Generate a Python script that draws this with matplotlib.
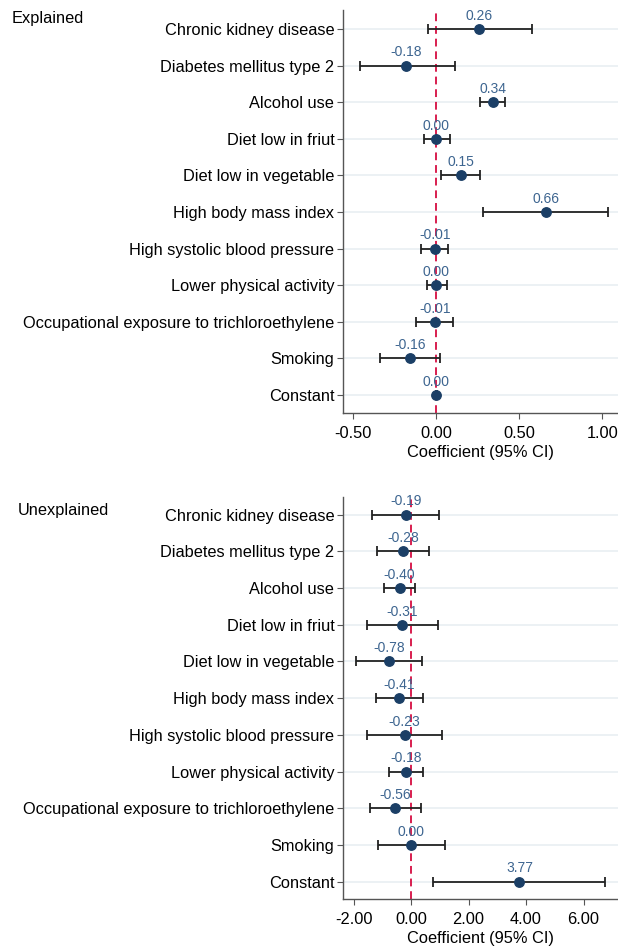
import matplotlib
matplotlib.use("Agg")
import matplotlib.pyplot as plt

plt.rcParams['font.family'] = ['Liberation Sans', 'DejaVu Sans']

categories = ["Chronic kidney disease", "Diabetes mellitus type 2", "Alcohol use",
              "Diet low in friut", "Diet low in vegetable", "High body mass index",
              "High systolic blood pressure", "Lower physical activity",
              "Occupational exposure to trichloroethylene", "Smoking", "Constant"]

explained_coef = [0.26, -0.18, 0.34, 0.00, 0.15, 0.66, -0.01, 0.00, -0.01, -0.16, 0.00]
explained_lo = [-0.05, -0.46, 0.265, -0.072, 0.028, 0.279, -0.090, -0.058, -0.122, -0.337, -0.003]
explained_hi = [0.578, 0.111, 0.416, 0.081, 0.265, 1.032, 0.069, 0.066, 0.101, 0.020, 0.003]

unexplained_coef = [-0.19, -0.28, -0.40, -0.31, -0.78, -0.41, -0.23, -0.18, -0.56, 0.00, 3.77]
unexplained_lo = [-1.36, -1.17, -0.93, -1.55, -1.93, -1.22, -1.54, -0.77, -1.44, -1.15, 0.76]
unexplained_hi = [0.98, 0.63, 0.15, 0.94, 0.38, 0.41, 1.09, 0.40, 0.35, 1.18, 6.76]

explained_ticks = [-0.5, 0.0, 0.5, 1.0]
unexplained_ticks = [-2.0, 0.0, 2.0, 4.0, 6.0]

W, H = 618, 946
fig = plt.figure(figsize=(W / 100, H / 100), dpi=100)

point_color = "#1b3f66"
label_color = "#3d6590"
ref_color = "#d81e4f"
grid_color = "#e9eff2"
FS = 11.8


def panel(rect, coef, lo, hi, xlim, ticks, ylim, title, title_xy):
    ax = fig.add_axes(rect)
    ys = list(range(len(categories)))
    for y in ys:
        ax.axhline(y, color=grid_color, lw=1.2, zorder=0)
    ax.axvline(0, color=ref_color, lw=1.4, ls=(0, (4, 2.5)), zorder=1)
    xerr = [[c - l for c, l in zip(coef, lo)], [h - c for c, h in zip(coef, hi)]]
    ax.errorbar(coef, ys, xerr=xerr, fmt='none', ecolor="#222222", elinewidth=1.3,
                capsize=3.5, capthick=1.3, zorder=2)
    ax.plot(coef, ys, 'o', color=point_color, ms=6.8, zorder=3)
    for c, y in zip(coef, ys):
        ax.annotate(f"{c:.2f}", (c, y), xytext=(0, 4.5), textcoords='offset points',
                    ha='center', va='bottom', fontsize=10, color=label_color, zorder=4)
    ax.set_yticks(ys)
    ax.set_yticklabels(categories, fontsize=FS)
    ax.set_ylim(*ylim)
    ax.set_xlim(*xlim)
    ax.set_xticks(ticks)
    ax.set_xticklabels([f"{t:.2f}" for t in ticks], fontsize=FS)
    ax.set_xlabel("Coefficient (95% CI)", fontsize=FS, labelpad=2.5)
    for s in ("top", "right"):
        ax.spines[s].set_visible(False)
    for s in ("left", "bottom"):
        ax.spines[s].set_color("#555555")
        ax.spines[s].set_linewidth(1.0)
    ax.tick_params(axis='both', length=4, width=0.8, color="#555555")
    ax.tick_params(axis='y', pad=2.5)
    ax.tick_params(axis='x', pad=5.5)
    ax.set_facecolor("white")
    fig.text(title_xy[0] / W, 1 - title_xy[1] / H, title, fontsize=FS, ha='left', va='center')
    return ax


panel([343.3 / W, 1 - 413 / H, (W - 343.3) / W, (413 - 10) / H],
      explained_coef, explained_lo, explained_hi,
      (-0.56, 1.094), explained_ticks, (10.49, -0.52), "Explained", (12, 19))

panel([343.3 / W, 1 - 899.3 / H, (W - 343.3) / W, (899.3 - 496.7) / H],
      unexplained_coef, unexplained_lo, unexplained_hi,
      (-2.36, 7.2), unexplained_ticks, (10.48, -0.49), "Unexplained", (18, 510))

fig.savefig("out.png", dpi=100, facecolor="white")
